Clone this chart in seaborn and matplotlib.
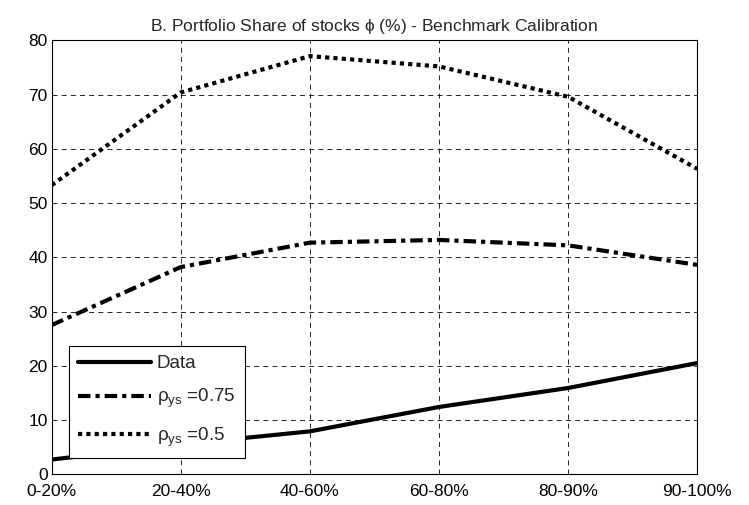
import numpy as np
import pandas as pd
import matplotlib
matplotlib.use("Agg")
import matplotlib.pyplot as plt
import seaborn as sns

sns.set_style("white")
plt.rcParams['font.family'] = ['Liberation Sans', 'DejaVu Sans']
plt.rcParams['mathtext.fontset'] = 'custom'
plt.rcParams['mathtext.rm'] = 'Liberation Sans'
plt.rcParams['mathtext.it'] = 'Liberation Sans'

groups = ['0-20%', '20-40%', '40-60%', '60-80%', '80-90%', '90-100%']
data_share = [2.7, 5.5, 7.9, 12.4, 15.9, 20.5]
rho075_share = [27.5, 38.2, 42.7, 43.2, 42.2, 38.6]
rho05_share = [53.3, 70.4, 77.1, 75.2, 69.6, 56.3]

fig = plt.figure(figsize=(7.49, 5.05), dpi=100)
ax = fig.add_axes([0.069, 0.061, 0.862, 0.859])

x = np.arange(len(groups))
sns.lineplot(x=x, y=data_share, ax=ax, color='black', lw=3, label='Data')
sns.lineplot(x=x, y=rho075_share, ax=ax, color='black', lw=3,
             linestyle=(0, (3, 1.2, 1, 1.2)), label=r'$\mathrm{\rho}_{ys}$ =0.75')
sns.lineplot(x=x, y=rho05_share, ax=ax, color='black', lw=3,
             linestyle=(0, (1, 1)), label=r'$\mathrm{\rho}_{ys}$ =0.5')

ax.set_xlim(0, 5)
ax.set_ylim(0, 80)
ax.set_xticks(x)
ax.set_xticklabels(groups)
ax.set_yticks(range(0, 81, 10))
ax.tick_params(direction='in', length=4, labelsize=12.5, colors='black')
ax.tick_params(axis='x', pad=7)
ax.tick_params(axis='y', pad=3)
ax.grid(True, color='black', linestyle=(0, (6, 5)), linewidth=0.6)
for s in ax.spines.values():
    s.set_color('black')
    s.set_linewidth(0.8)

ax.set_title(r'B. Portfolio Share of stocks $\mathrm{\phi}$ (%) - Benchmark Calibration',
             fontsize=12.5, pad=7)

leg = ax.legend(loc='lower left', bbox_to_anchor=(0.012, 0.016), fontsize=13.5,
                frameon=True, fancybox=False, edgecolor='black', handlelength=3.9,
                labelspacing=0.8, borderpad=0.5, handletextpad=0.3)
leg.get_frame().set_linewidth(0.8)
leg.get_frame().set_alpha(1)

fig.savefig('out.png', dpi=100)
